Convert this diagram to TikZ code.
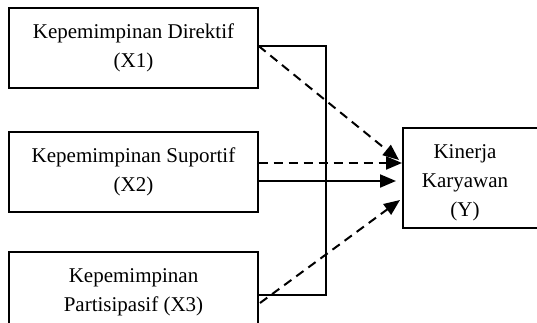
\documentclass[tikz,border=0pt]{standalone}
\usepackage{fontspec}
\setmainfont{Liberation Serif}
\usetikzlibrary{arrows.meta}
\begin{document}
\begin{tikzpicture}[x=1pt,y=-1pt,
  varbox/.style={draw,line width=1.3pt,minimum width=249pt,minimum height=80pt,
    inner sep=0pt,align=center,font=\fontsize{21}{29}\selectfont},
  link/.style={line width=2pt},
  tip/.style={-{Triangle[length=16pt,width=13pt]}},
  dashlink/.style={link,tip,dash pattern=on 9pt off 6pt}]
\useasboundingbox (0,0) rectangle (537,322);
\begin{scope}
\clip (0,0) rectangle (537,322);
\node[varbox] (x1) at (133.5,48) {Kepemimpinan Direktif\\(X1)};
\node[varbox] (x2) at (133.5,172) {Kepemimpinan Suportif\\(X2)};
\node[varbox] (x3) at (133.5,292) {Kepemimpinan\\Partisipasif (X3)};
\node[draw,line width=1.3pt,minimum width=170pt,minimum height=100pt,inner sep=0pt] (y) at (488,178) {};
\node[align=center,font=\fontsize{21}{29}\selectfont] (ylab) at (465,183) {Kinerja\\Karyawan\\(Y)};
% joined solid bracket from X1 and X3
\coordinate (a1) at (x1.east |- 0,46);
\coordinate (a3) at (x3.east |- 0,295);
\draw[link] (a1) -- (326,46) -- (326,295) -- (a3);
% solid arrow from X2
\draw[link,tip] (x2.east |- 0,181) -- (396,181);
% dashed arrows
\draw[dashlink] (a1) -- (399,160);
\draw[dashlink] (x2.east |- 0,163) -- (402,163);
\draw[dashlink] (260,303) -- (400,200);
\end{scope}
\end{tikzpicture}
\end{document}
